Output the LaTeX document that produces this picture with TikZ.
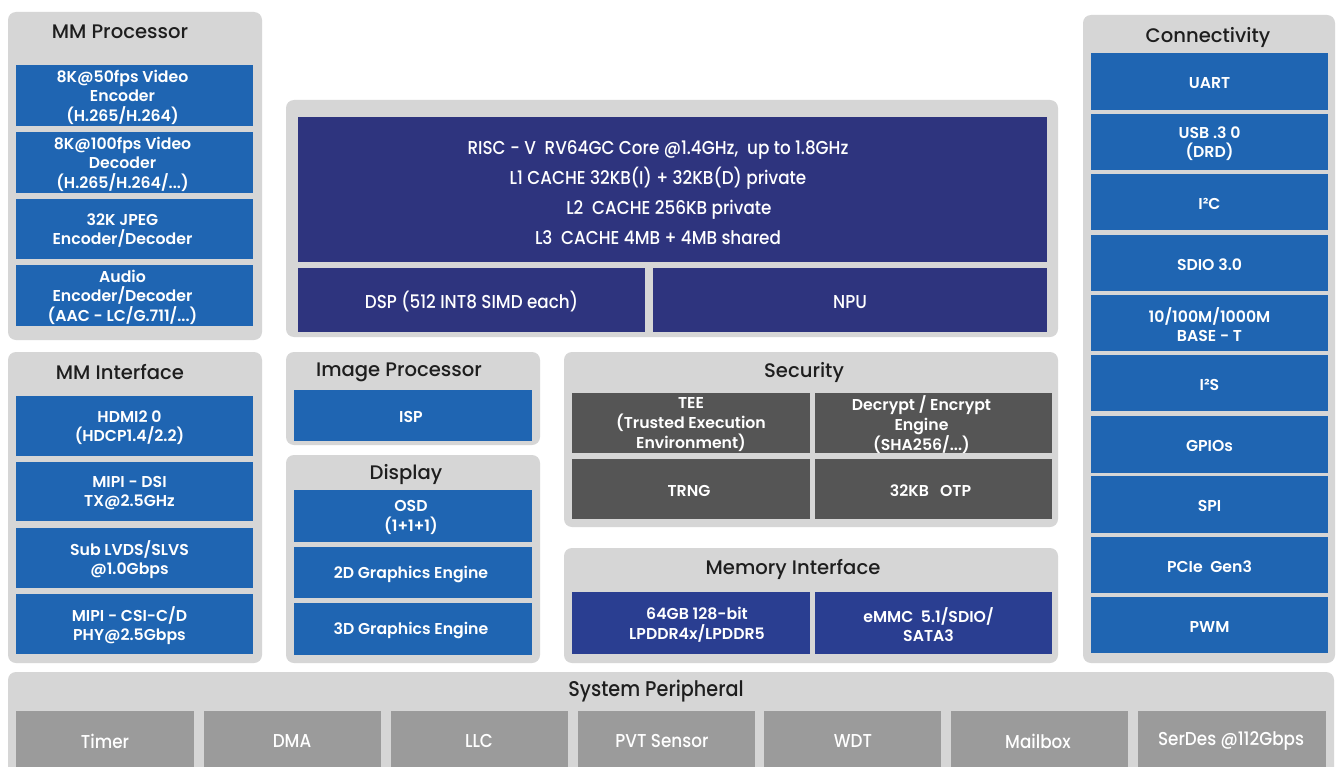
\documentclass[tikz,border=0pt]{standalone}
\usepackage{fontspec}
\setmainfont{Poppins}
\newfontfamily\sbfont{Poppins SemiBold}
\newfontfamily\mdfont{Poppins Medium}
\newfontfamily\mdcond[FakeStretch=0.9]{Poppins Medium}
\definecolor{panelgray}{RGB}{214,214,214}
\definecolor{cblue}{RGB}{31,101,178}
\definecolor{cnavy}{RGB}{46,52,126}
\definecolor{mnavy}{RGB}{42,62,145}
\definecolor{secgray}{RGB}{85,85,85}
\definecolor{pergray}{RGB}{155,155,155}
\definecolor{ttext}{RGB}{30,30,30}
\tikzset{
  panel/.style={fill=panelgray, rounded corners=6pt, inner sep=0pt, outer sep=0pt},
  bluebox/.style={fill=cblue, inner sep=0pt, outer sep=0pt},
  navybox/.style={fill=cnavy, inner sep=0pt, outer sep=0pt},
  membox/.style={fill=mnavy, inner sep=0pt, outer sep=0pt},
  secbox/.style={fill=secgray, inner sep=0pt, outer sep=0pt},
  perbox/.style={fill=pergray, inner sep=0pt, outer sep=0pt},
  lbl/.style={text=white, align=center, inner sep=0pt, font=\sbfont\fontsize{11.8}{14.7}\selectfont},
  clbl/.style={text=white, align=center, inner sep=0pt, font=\mdcond\fontsize{14}{22.5}\selectfont},
  plbl/.style={text=white, align=center, inner sep=0pt, font=\mdcond\fontsize{14}{16}\selectfont},
  ptitle/.style={text=ttext, inner sep=0pt, font=\mdfont\fontsize{14.7}{17}\selectfont},
}
\newcommand\blk[8]{%
  \node[#6, minimum width={(#4-#2)*0.75pt}, minimum height={(#5-#3)*0.75pt}] (#1) at ({(#2+#4)/2},{(#3+#5)/2}) {};
  \node[lbl] (#1-t) at ([xshift={#7*0.75pt}, yshift=-1.2pt]#1.center) {#8};
}
\newcommand\pblk[6]{%
  \node[#6, minimum width={(#4-#2)*0.75pt}, minimum height={(#5-#3)*0.75pt}] (#1) at ({(#2+#4)/2},{(#3+#5)/2}) {};
}
\begin{document}
\begin{tikzpicture}[x=0.75pt,y=-0.75pt]
\useasboundingbox (0,0) rectangle (1339,767);
\clip (0,0) rectangle (1339,767);
\fill[white] (0,0) rectangle (1339,767);

% MM Processor
\pblk{pmmp}{8}{12}{262}{340}{panel}
\node[ptitle] (pmmp-t) at (120,32) {MM Processor};
\blk{enc}{16}{65}{253}{126}{bluebox}{-12}{8K@50fps Video\\Encoder\\(H.265/H.264)}
\blk{dec}{16}{132}{253}{193}{bluebox}{-12}{8K@100fps Video\\Decoder\\(H.265/H.264/...)}
\blk{jpeg}{16}{199}{253}{259}{bluebox}{-12}{32K JPEG\\Encoder/Decoder}
\blk{audio}{16}{265}{253}{326}{bluebox}{-12}{Audio\\Encoder/Decoder\\(AAC - LC/G.711/...)}

% MM Interface
\pblk{pmmi}{8}{352}{262}{663}{panel}
\node[ptitle] (pmmi-t) at (120,372) {MM Interface};
\blk{hdmi}{16}{396}{253}{456}{bluebox}{-5}{HDMI2 0\\(HDCP1.4/2.2)}
\blk{dsi}{16}{462}{253}{521}{bluebox}{-5}{MIPI - DSI\\TX@2.5GHz}
\blk{lvds}{16}{528}{253}{588}{bluebox}{-5}{Sub LVDS/SLVS\\@1.0Gbps}
\blk{csi}{16}{594}{253}{654}{bluebox}{-5}{MIPI - CSI-C/D\\PHY@2.5Gbps}

% Image Processor
\pblk{pimg}{286}{352}{540}{445}{panel}
\node[ptitle] (pimg-t) at (399,372) {Image Processor};
\blk{isp}{294}{390}{532}{441}{bluebox}{-2}{ISP}

% Display
\pblk{pdisp}{286}{455}{540}{663}{panel}
\node[ptitle] (pdisp-t) at (406,475) {Display};
\blk{osd}{294}{490}{532}{542}{bluebox}{-2}{OSD\\(1+1+1)}
\blk{g2d}{294}{547}{532}{598}{bluebox}{-2}{2D Graphics Engine}
\blk{g3d}{294}{603}{532}{655}{bluebox}{-2}{3D Graphics Engine}

% CPU
\pblk{pcpu}{286}{100}{1058}{337}{panel}
\pblk{core}{298}{117}{1047}{262}{navybox}
\node[clbl] (core-t) at (658,193)
  {RISC - V\ \ RV64GC Core @1.4GHz,\ \ up to 1.8GHz\\L1 CACHE 32KB(I) + 32KB(D) private\\\ \ \ \ \ L2\ \ CACHE 256KB private\\L3\ \ CACHE 4MB + 4MB shared};
\pblk{dsp}{298}{268}{645}{332}{navybox}
\node[plbl] (dsp-t) at ([yshift=-1.2pt]dsp.center) {DSP (512 INT8 SIMD each)};
\pblk{npu}{653}{268}{1047}{332}{navybox}
\node[plbl] (npu-t) at ([yshift=-1.2pt]npu.center) {NPU};

% Security
\pblk{psec}{564}{352}{1058}{527}{panel}
\node[ptitle] (psec-t) at (804,372) {Security};
\blk{tee}{572}{393}{810}{453}{secbox}{0}{TEE\\(Trusted Execution\\Environment)}
\blk{crypt}{815}{393}{1052}{453}{secbox}{-12}{Decrypt / Encrypt\\Engine\\(SHA256/...)}
\blk{trng}{572}{459}{810}{519}{secbox}{-2}{TRNG}
\blk{otp}{815}{459}{1052}{519}{secbox}{-3}{32KB\ \ \ OTP}

% Memory Interface
\pblk{pmem}{564}{548}{1058}{663}{panel}
\node[ptitle] (pmem-t) at (793,569) {Memory Interface};
\blk{lpddr}{572}{592}{810}{654}{membox}{6}{64GB 128-bit\\LPDDR4x/LPDDR5}
\blk{emmc}{815}{592}{1052}{654}{membox}{-5}{eMMC\ \ 5.1/SDIO/\\SATA3}

% Connectivity
\pblk{pcon}{1083}{15}{1335}{663}{panel}
\node[ptitle] (pcon-t) at (1208,37) {Connectivity};
\blk{uart}{1091}{53}{1328}{110}{bluebox}{0}{UART}
\blk{usb}{1091}{114}{1328}{170}{bluebox}{0}{USB .3 0\\(DRD)}
\blk{iic}{1091}{174}{1328}{230}{bluebox}{0}{I²C}
\blk{sdio}{1091}{235}{1328}{291}{bluebox}{0}{SDIO 3.0}
\blk{eth}{1091}{295}{1328}{351}{bluebox}{0}{10/100M/1000M\\BASE - T}
\blk{iis}{1091}{355}{1328}{411}{bluebox}{0}{I²S}
\blk{gpio}{1091}{416}{1328}{473}{bluebox}{0}{GPIOs}
\blk{spi}{1091}{476}{1328}{533}{bluebox}{0}{SPI}
\blk{pcie}{1091}{537}{1328}{593}{bluebox}{0}{PCIe\ \ Gen3}
\blk{pwm}{1091}{597}{1328}{653}{bluebox}{0}{PWM}

% System Peripheral
\pblk{pper}{8}{672}{1334}{790}{panel}
\node[ptitle, font=\mdcond\fontsize{16}{18}\selectfont] (pper-t) at (656,691) {System Peripheral};
\pblk{timer}{16}{711}{194}{790}{perbox}
\node[plbl] (timer-t) at (105,741) {Timer};
\pblk{dma}{204}{711}{381}{790}{perbox}
\node[plbl] (dma-t) at (292,741) {DMA};
\pblk{llc}{391}{711}{568}{790}{perbox}
\node[plbl] (llc-t) at (479,741) {LLC};
\pblk{pvt}{578}{711}{755}{790}{perbox}
\node[plbl] (pvt-t) at (662,741) {PVT Sensor};
\pblk{wdt}{764}{711}{941}{790}{perbox}
\node[plbl] (wdt-t) at (853,741) {WDT};
\pblk{mbox}{951}{711}{1128}{790}{perbox}
\node[plbl] (mbox-t) at (1038,741) {Mailbox};
\pblk{serdes}{1138}{711}{1326}{790}{perbox}
\node[plbl] (serdes-t) at (1231,741) {SerDes @112Gbps};
\end{tikzpicture}
\end{document}
